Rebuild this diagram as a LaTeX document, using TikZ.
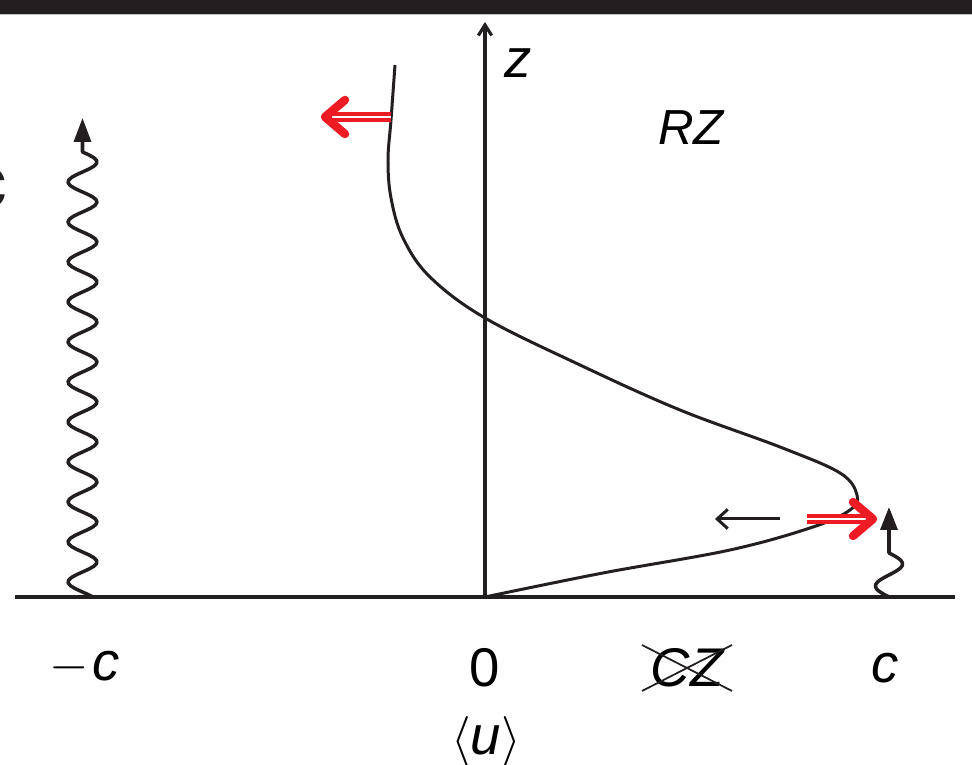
\documentclass[tikz,border=0pt]{standalone}
\usepackage{fontspec}
\setmainfont{Liberation Sans}
\usepackage{tikz}
\usetikzlibrary{arrows.meta,calc}
\definecolor{pushred}{RGB}{237,28,36}
\definecolor{inkblack}{RGB}{35,31,32}
\tikzset{
  axislbl/.style={font=\fontsize{15.5}{18}\selectfont\itshape,inner sep=0pt},
  waveline/.style={inkblack,line width=1pt,line join=round},
}
\newcommand{\pushline}[3]{%
  \draw[pushred,line width=0.95pt,double=white,double distance=0.8pt] (#1) -- ($(#2)+(0.3*#3,0)$);%
  \draw[pushred,line width=2.4pt,line cap=round,line join=round] ($(#2)+(#3,-17)$) -- (#2) -- ($(#2)+(#3,17)$);%
}

\begin{document}
\begin{tikzpicture}[x=0.01cm,y=-0.01cm]
  \useasboundingbox (0,0) rectangle (972,765);
  \fill[inkblack] (0,0) rectangle (972,14);
  \draw[gray!50,line width=0.3pt] (0,14.6) -- (972,14.6);
  \node[font=\fontsize{22}{24}\selectfont\bfseries,anchor=east,inner sep=0pt,text=inkblack] (panel) at (8,188) {c};
  \coordinate (origin) at (485,597);
  \coordinate (zend) at (485,22);
  \coordinate (uleft) at (15,597);
  \coordinate (uright) at (955,597);
  \draw[inkblack,line width=1.15pt] (uleft) -- (uright);
  \draw[inkblack,line width=0.9pt,-{Straight Barb[length=3pt,width=3.8pt]}] (origin) -- (zend);
  \draw[inkblack,line width=0.85pt] plot[smooth,tension=0.6] coordinates {(origin) (603,573) (730,550) (813,527) (850,510) (857,495) (840,473) (780,447) (680,410) (580,365) (485,318) (430,277) (403,238) (391,198) (388,160) (391,120) (395,65)};
  \draw[waveline,-{Triangle[length=6.8pt,width=4.8pt]}] plot[domain=597:152,samples=160] ({82.5-14.5*sin(9*(592-\x))},\x) -- (82.5,118);
  \draw[waveline,-{Triangle[length=6.5pt,width=4.8pt]}] plot[domain=597:553,samples=40] ({889-13.5*sin(8.1818*(597-\x))},\x) -- (889,507);
  \coordinate (topstart) at (391,117);
  \coordinate (toptip) at (325,117);
  \pushline{topstart}{toptip}{20}
  \coordinate (botstart) at (807,519);
  \coordinate (bottip) at (873,519);
  \pushline{botstart}{bottip}{-20}
  \coordinate (dragtail) at (780,519);
  \coordinate (draghead) at (715,519);
  \draw[inkblack,line width=0.85pt,-{Straight Barb[length=3pt,width=5.5pt]}] (dragtail) -- (draghead);
  \node[axislbl] (zlabel) at (518,63) {z};
  \node[font=\fontsize{14}{16}\selectfont\itshape,inner sep=0pt] (rzlabel) at (691,128) {RZ};
  \node[axislbl] (minusc) at (85,668) {$-$\kern1pt c};
  \node[axislbl,font=\fontsize{15.5}{18}\selectfont] (zero) at (485,668) {0};
  \node[axislbl] (cz) at (687,668) {CZ};
  \draw[inkblack,line width=0.5pt] ($(cz)+(-45,-23)$) -- ($(cz)+(45,23)$);
  \draw[inkblack,line width=0.5pt] ($(cz)+(-45,23)$) -- ($(cz)+(45,-23)$);
  \node[axislbl] (plusc) at (885,668) {c};
  \node[font=\fontsize{15.5}{18}\selectfont,inner sep=0pt] (meanu) at (486,742) {$\langle$\textit{u}$\rangle$};
\end{tikzpicture}
\end{document}
